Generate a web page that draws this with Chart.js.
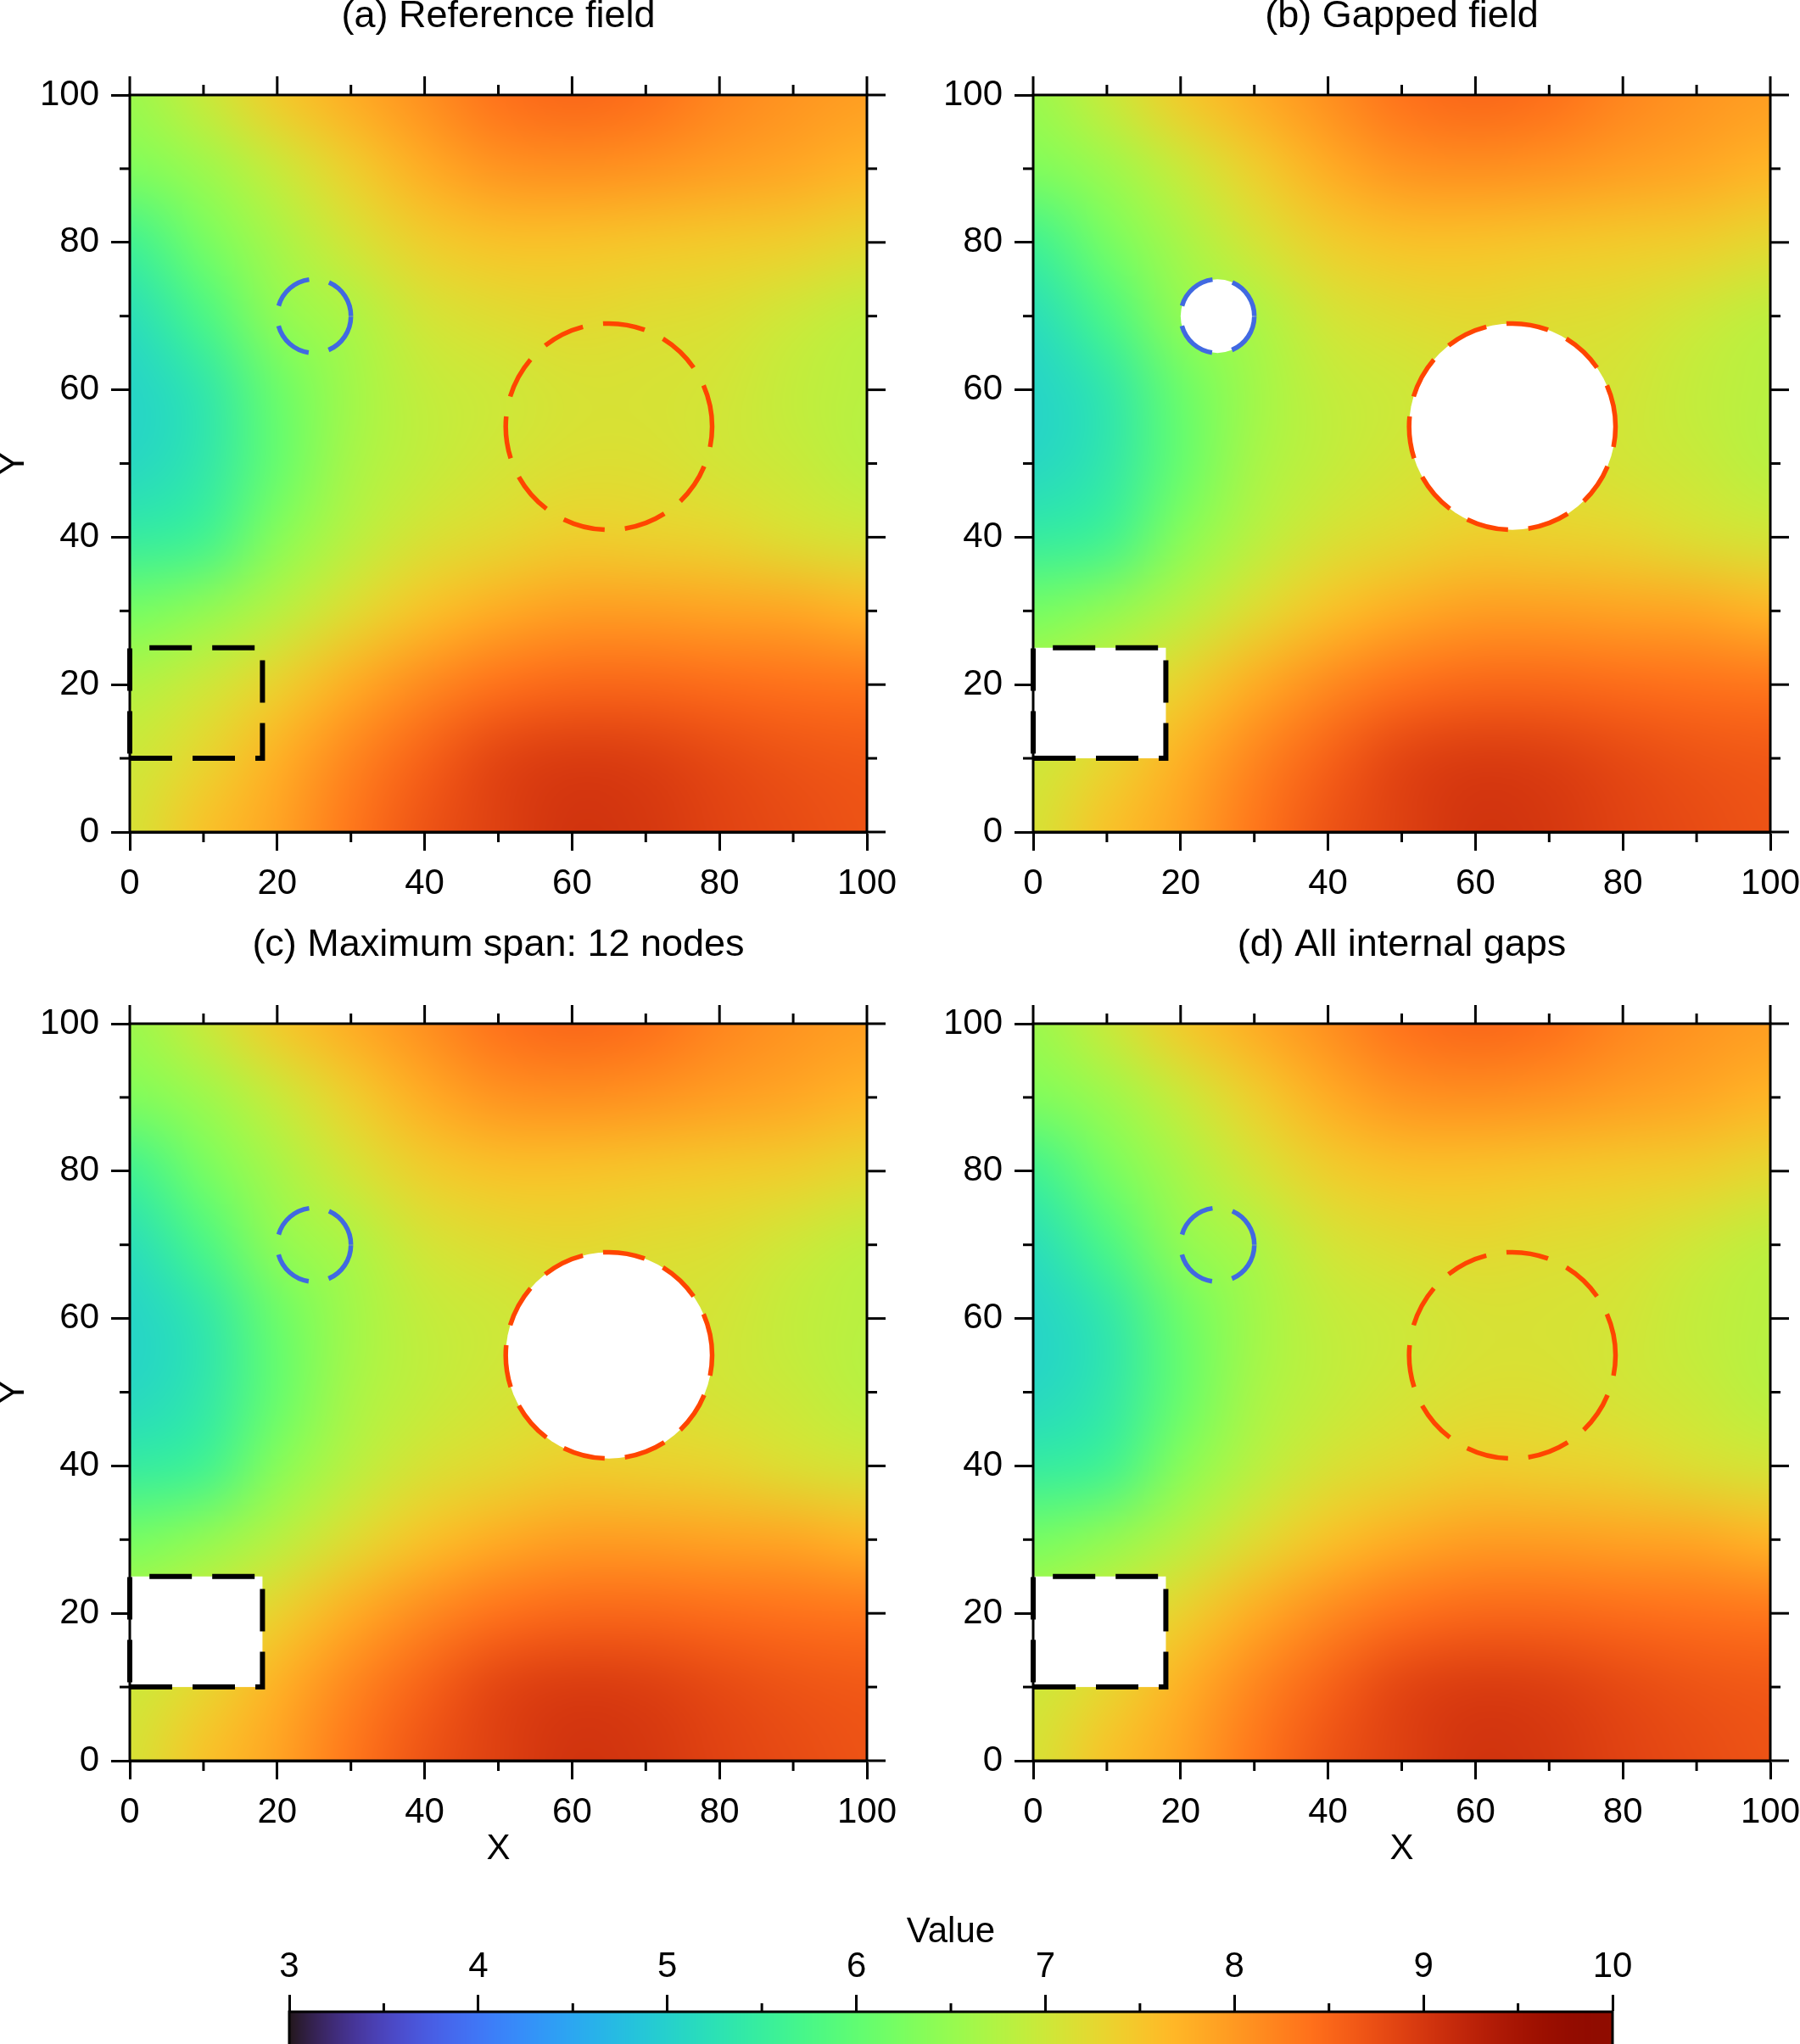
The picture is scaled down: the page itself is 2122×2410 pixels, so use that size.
<!DOCTYPE html>
<html>
<head>
<meta charset="utf-8">
<script src="https://cdn.jsdelivr.net/npm/chart.js@4.4.1/dist/chart.umd.min.js"></script>
<style>
  html, body { margin: 0; padding: 0; background: #fff; }
  body { width: 2122px; height: 2410px; position: relative; overflow: hidden; }
  canvas { position: absolute; }
</style>
</head>
<body>
<canvas id="panelA" width="1092" height="1121" style="left:-10px;top:-10px"></canvas>
<canvas id="panelB" width="1092" height="1121" style="left:1055px;top:-10px"></canvas>
<canvas id="panelC" width="1092" height="1121" style="left:-10px;top:1085px"></canvas>
<canvas id="panelD" width="1092" height="1121" style="left:1055px;top:1085px"></canvas>
<canvas id="colorbar" width="1640" height="204" style="left:301px;top:2248px"></canvas>
<script>
// --- grid nodes of the field ---
const xNodes = [0, 10, 20, 30, 40, 50, 60, 70, 80, 90, 100];
const yNodes = [0, 10, 20, 30, 40, 50, 60, 70, 80, 90, 100];

// values, one row per y node, x from 0 to 100
const rowY0   = [7.10, 7.55, 7.90, 8.35, 8.70, 8.90, 9.05, 9.00, 8.87, 8.78, 8.70];
const rowY10  = [7.00, 7.30, 7.75, 8.20, 8.55, 8.85, 8.95, 8.92, 8.80, 8.70, 8.65];
const rowY20  = [6.75, 7.00, 7.35, 7.80, 8.15, 8.40, 8.50, 8.50, 8.45, 8.40, 8.35];
const rowY30  = [6.20, 6.45, 6.80, 7.20, 7.55, 7.80, 7.95, 7.95, 7.90, 7.85, 7.70];
const rowY40  = [5.45, 5.60, 6.35, 6.80, 7.10, 7.25, 7.40, 7.35, 7.30, 7.15, 7.05];
const rowY50  = [5.10, 5.35, 6.05, 6.65, 6.90, 7.05, 7.15, 7.15, 7.05, 6.95, 6.80];
const rowY60  = [5.05, 5.35, 6.10, 6.60, 6.90, 7.00, 7.10, 7.10, 7.05, 6.90, 6.80];
const rowY70  = [5.20, 5.75, 6.45, 6.70, 7.05, 7.20, 7.25, 7.20, 7.15, 7.00, 6.85];
const rowY80  = [5.60, 6.20, 6.65, 7.05, 7.40, 7.55, 7.55, 7.50, 7.45, 7.40, 7.25];
const rowY90  = [6.30, 6.55, 6.95, 7.40, 7.80, 8.05, 8.10, 8.05, 7.95, 7.85, 7.70];
const rowY100 = [6.55, 6.95, 7.45, 7.80, 8.10, 8.40, 8.50, 8.42, 8.20, 8.05, 7.95];
const fieldRows = [rowY0, rowY10, rowY20, rowY30, rowY40, rowY50, rowY60, rowY70, rowY80, rowY90, rowY100];

const panelTitles = ['(a) Reference field', '(b) Gapped field', '(c) Maximum span: 12 nodes', '(d) All internal gaps'];
const axisTicks = [0, 20, 40, 60, 80, 100];
const cbTicks = [3, 4, 5, 6, 7, 8, 9, 10];

// the gap regions (data units)
const gapBox = { x0: 0, x1: 18, y0: 10, y1: 25 };
const smallHole = { cx: 25, cy: 70, r: 5 };
const bigHole = { cx: 65, cy: 55, r: 14 };
// which gaps stay empty in each panel
const panelGaps = [[], ['box', 'small', 'big'], ['box', 'big'], ['box']];

const FONT = 'Liberation Sans';
Chart.defaults.font.family = FONT;
Chart.defaults.color = '#000';

// turbo colour map over 3..10
function turbo(v) {
  const t = Math.min(1, Math.max(0, (v - cbTicks[0]) / (cbTicks[cbTicks.length - 1] - cbTicks[0])));
  const r = 0.13572138 + t * (4.61539260 + t * (-42.66032258 + t * (132.13108234 + t * (-152.94239396 + t * 59.28637943))));
  const g = 0.09140261 + t * (2.19418839 + t * (4.84296658 + t * (-14.18503333 + t * (4.27729857 + t * 2.82956604))));
  const b = 0.10667330 + t * (12.64194608 + t * (-60.58204836 + t * (110.36276771 + t * (-89.90310912 + t * 27.34824973))));
  return [r, g, b].map(c => Math.round(255 * Math.min(1, Math.max(0, c))));
}

function line(ctx, x1, y1, x2, y2) {
  ctx.beginPath(); ctx.moveTo(x1, y1); ctx.lineTo(x2, y2); ctx.stroke();
}

// --- field image, gaps and outlines ---
const fieldPlugin = {
  id: 'field',
  beforeDatasetsDraw(chart, args, opts) {
    const { ctx, chartArea: a, scales: { x, y } } = chart;
    const nx = xNodes.length, ny = yNodes.length;
    const off = document.createElement('canvas');
    off.width = nx; off.height = ny;
    const octx = off.getContext('2d');
    const img = octx.createImageData(nx, ny);
    chart.data.datasets[0].data.forEach(p => {
      const i = xNodes.indexOf(p.x);
      const j = ny - 1 - yNodes.indexOf(p.y);
      const c = turbo(p.v);
      const k = (j * nx + i) * 4;
      img.data[k] = c[0]; img.data[k + 1] = c[1]; img.data[k + 2] = c[2]; img.data[k + 3] = 255;
    });
    octx.putImageData(img, 0, 0);

    const x0 = x.getPixelForValue(xNodes[0]), x1 = x.getPixelForValue(xNodes[nx - 1]);
    const yT = y.getPixelForValue(yNodes[ny - 1]), yB = y.getPixelForValue(yNodes[0]);
    ctx.save();
    ctx.imageSmoothingEnabled = true;
    ctx.imageSmoothingQuality = 'high';
    ctx.drawImage(off, 0.5, 0.5, nx - 1, ny - 1, x0, yT, x1 - x0, yB - yT);

    // empty (white) gaps
    ctx.beginPath();
    ctx.rect(a.left, a.top, a.right - a.left, a.bottom - a.top);
    ctx.clip();
    ctx.fillStyle = '#fff';
    const sx = d => Math.abs(x.getPixelForValue(d) - x.getPixelForValue(0));
    (opts.gaps || []).forEach(g => {
      if (g === 'box') {
        const l = x.getPixelForValue(gapBox.x0), r = x.getPixelForValue(gapBox.x1);
        const t = y.getPixelForValue(gapBox.y1), b = y.getPixelForValue(gapBox.y0);
        ctx.fillRect(l - 2, t, r - l + 2, b - t);
      } else {
        const h = g === 'small' ? smallHole : bigHole;
        ctx.beginPath();
        ctx.arc(x.getPixelForValue(h.cx), y.getPixelForValue(h.cy), sx(h.r), 0, Math.PI * 2);
        ctx.fill();
      }
    });
    ctx.restore();

    // dashed outlines
    ctx.save();
    ctx.setLineDash([50, 24]);
    ctx.lineCap = 'butt';
    ctx.strokeStyle = '#000';
    ctx.lineWidth = 6;
    ctx.beginPath();
    ctx.moveTo(x.getPixelForValue(gapBox.x0), y.getPixelForValue(gapBox.y0));
    ctx.lineTo(x.getPixelForValue(gapBox.x1), y.getPixelForValue(gapBox.y0));
    ctx.lineTo(x.getPixelForValue(gapBox.x1), y.getPixelForValue(gapBox.y1));
    ctx.lineTo(x.getPixelForValue(gapBox.x0), y.getPixelForValue(gapBox.y1));
    ctx.closePath();
    ctx.stroke();
    [[smallHole, '#4169e1'], [bigHole, '#ff4500']].forEach(([h, col]) => {
      ctx.strokeStyle = col;
      ctx.lineWidth = 5.5;
      ctx.beginPath();
      ctx.arc(x.getPixelForValue(h.cx), y.getPixelForValue(h.cy), sx(h.r), 0, -Math.PI * 2, true);
      ctx.stroke();
    });
    ctx.restore();
  }
};

// --- frame, minor ticks and ticks on top / right ---
const framePlugin = {
  id: 'frame',
  afterDraw(chart) {
    const { ctx, chartArea: a, scales: { x, y } } = chart;
    ctx.save();
    ctx.strokeStyle = '#000';
    ctx.lineWidth = 3;
    ctx.strokeRect(a.left, a.top, a.right - a.left, a.bottom - a.top);
    for (let v = 0; v <= 100; v += 10) {
      const major = axisTicks.includes(v);
      const len = major ? 22 : 12;
      const px = x.getPixelForValue(v), py = y.getPixelForValue(v);
      line(ctx, px, a.top, px, a.top - len);
      line(ctx, a.right, py, a.right + len, py);
      if (!major) {
        line(ctx, px, a.bottom, px, a.bottom + len);
        line(ctx, a.left, py, a.left - len, py);
      }
    }
    ctx.restore();
  }
};

function fieldPoints() {
  const pts = [];
  yNodes.forEach((yv, j) => xNodes.forEach((xv, i) => pts.push({ x: xv, y: yv, v: fieldRows[j][i] })));
  return pts;
}

function panelOptions(idx) {
  const showX = idx >= 2, showY = idx % 2 === 0;
  const tickFont = { family: FONT, size: 42 };
  return {
    responsive: false,
    animation: false,
    devicePixelRatio: 1,
    layout: { padding: { left: 0, right: 60, top: 0, bottom: 0 } },
    plugins: {
      legend: { display: false },
      tooltip: { enabled: false },
      title: {
        display: true, text: panelTitles[idx], fullSize: false, color: '#000',
        font: { family: FONT, size: 45, weight: 'normal' },
        padding: { top: 3, bottom: 65 }
      },
      field: { gaps: panelGaps[idx] }
    },
    scales: {
      x: {
        type: 'linear', position: 'bottom', min: 0, max: 100,
        afterBuildTicks: s => { s.ticks = axisTicks.map(v => ({ value: v })); },
        ticks: { padding: 14, font: tickFont, color: '#000', maxRotation: 0, autoSkip: false },
        grid: { drawOnChartArea: false, tickLength: 22, tickWidth: 3, tickColor: '#000' },
        border: { width: 3, color: '#000' },
        title: { display: showX, text: 'X', color: '#000', font: tickFont, padding: 0 },
        afterFit: s => { s.height = 130; }
      },
      y: {
        type: 'linear', position: 'left', min: 0, max: 100,
        afterBuildTicks: s => { s.ticks = axisTicks.map(v => ({ value: v })); },
        ticks: { padding: 14, font: tickFont, color: '#000', autoSkip: false },
        grid: { drawOnChartArea: false, tickLength: 22, tickWidth: 3, tickColor: '#000' },
        border: { width: 3, color: '#000' },
        title: { display: showY, text: 'Y', color: '#000', font: tickFont, padding: { top: 1, bottom: 0 } },
        afterFit: s => { s.width = 163; }
      }
    }
  };
}

['panelA', 'panelB', 'panelC', 'panelD'].forEach((id, idx) => {
  new Chart(document.getElementById(id), {
    type: 'scatter',
    data: { datasets: [{ data: fieldPoints(), pointRadius: 0, pointHoverRadius: 0 }] },
    options: panelOptions(idx),
    plugins: [fieldPlugin, framePlugin]
  });
});

// --- colour bar ---
const colorbarPlugin = {
  id: 'colorbar',
  afterDraw(chart) {
    const { ctx, chartArea: a, scales: { x } } = chart;
    ctx.save();
    for (let px = Math.floor(a.left); px < a.right; px++) {
      const c = turbo(x.getValueForPixel(px + 0.5));
      ctx.fillStyle = 'rgb(' + c.join(',') + ')';
      ctx.fillRect(px, a.top, 1, a.bottom - a.top);
    }
    ctx.strokeStyle = '#000';
    ctx.lineWidth = 3;
    ctx.strokeRect(a.left, a.top, a.right - a.left, a.bottom - a.top + 10);
    for (let i = 0; i < cbTicks.length - 1; i++) {
      const px = x.getPixelForValue((cbTicks[i] + cbTicks[i + 1]) / 2);
      line(ctx, px, a.top, px, a.top - 10);
    }
    ctx.restore();
  }
};

new Chart(document.getElementById('colorbar'), {
  type: 'scatter',
  data: { datasets: [{ data: [], pointRadius: 0 }] },
  options: {
    responsive: false,
    animation: false,
    devicePixelRatio: 1,
    layout: { padding: { left: 40, right: 40, top: 0, bottom: 0 } },
    plugins: { legend: { display: false }, tooltip: { enabled: false } },
    scales: {
      x: {
        type: 'linear', position: 'top', min: cbTicks[0], max: cbTicks[cbTicks.length - 1],
        afterBuildTicks: s => { s.ticks = cbTicks.map(v => ({ value: v })); },
        ticks: { padding: 7, font: { family: FONT, size: 42 }, color: '#000', maxRotation: 0, autoSkip: false },
        grid: { drawOnChartArea: false, tickLength: 20, tickWidth: 3, tickColor: '#000' },
        border: { width: 3, color: '#000' },
        title: { display: true, text: 'Value', color: '#000', font: { family: FONT, size: 42 }, padding: { top: 5, bottom: 0 } },
        afterFit: s => { s.height = 124; }
      },
      y: { display: false, min: 0, max: 1 }
    }
  },
  plugins: [colorbarPlugin]
});
</script>
</body>
</html>
